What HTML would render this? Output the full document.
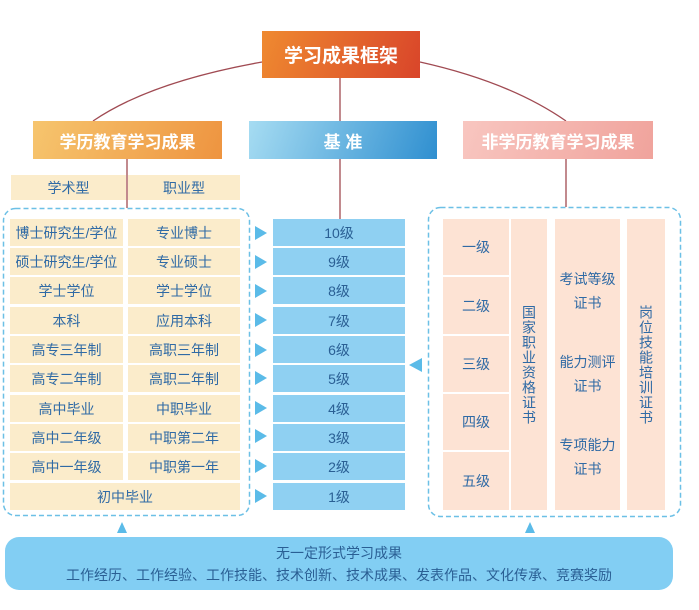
<!DOCTYPE html>
<html><head><meta charset="utf-8"><style>
body{margin:0;width:699px;height:610px;background:#fff;position:relative;overflow:hidden;font-family:"Liberation Sans","Noto Sans CJK SC",sans-serif;}
.a{position:absolute;box-sizing:border-box;display:flex;align-items:center;justify-content:center;text-align:center;color:#2f6aa5;font-size:14px;}
.h{color:#fff;font-weight:bold;font-size:19px;}
.y{background:#fbeccb;}
.b{background:#8fd0f2;color:#2a5f94;}
.p{background:#fde3d4;}
.v{writing-mode:vertical-rl;letter-spacing:1px;}
</style></head><body>
<svg width="699" height="610" style="position:absolute;left:0;top:0">
<path d="M262,62 Q150,82 93,121" fill="none" stroke="#a04a52" stroke-width="1.3"/>
<path d="M420,62 Q510,82 566,121" fill="none" stroke="#a04a52" stroke-width="1.3"/>
<line x1="340" y1="78" x2="340" y2="121" stroke="#a04a52" stroke-width="1.3"/>
<line x1="340" y1="159" x2="340" y2="219" stroke="#a04a52" stroke-width="1.3"/>
<line x1="127" y1="159" x2="127" y2="208" stroke="#a04a52" stroke-width="1.3"/>
<line x1="566" y1="159" x2="566" y2="207" stroke="#a04a52" stroke-width="1.3"/>
<rect x="3.5" y="208.5" width="246" height="307" rx="12" fill="none" stroke="#6cc0e6" stroke-width="1.5" stroke-dasharray="5,3"/>
<rect x="428.5" y="207.5" width="252" height="309" rx="12" fill="none" stroke="#6cc0e6" stroke-width="1.5" stroke-dasharray="5,3"/>
<polygon points="117,533 127,533 122,522" fill="#5bbbe8"/>
<polygon points="525,533 535,533 530,522" fill="#5bbbe8"/>
<polygon points="409,365 422,358 422,372" fill="#5bbbe8"/>
<g fill="#5bbbe8">
<polygon points="255,226 267,233 255,240"/><polygon points="255,255 267,262 255,269"/><polygon points="255,284 267,291 255,298"/><polygon points="255,313 267,320 255,327"/><polygon points="255,343 267,350 255,357"/><polygon points="255,371 267,378 255,385"/><polygon points="255,401 267,408 255,415"/><polygon points="255,429 267,436 255,443"/><polygon points="255,459 267,466 255,473"/><polygon points="255,489 267,496 255,503"/>
</g>
</svg>
<div class="a h" style="left:262px;top:31px;width:158px;height:47px;background:linear-gradient(110deg,#ef8a30,#d9452a);">学习成果框架</div>
<div class="a h" style="left:33px;top:121px;width:189px;height:38px;font-size:17px;background:linear-gradient(110deg,#f6c56e,#ee9440);">学历教育学习成果</div>
<div class="a h" style="left:249px;top:121px;width:188px;height:38px;font-size:17px;background:linear-gradient(110deg,#a6dcf2,#2f8fd0);">基 准</div>
<div class="a h" style="left:463px;top:121px;width:190px;height:38px;font-size:17px;background:linear-gradient(110deg,#f8c6c0,#f0a39c);">非学历教育学习成果</div>
<div class="a y" style="left:11px;top:175px;width:115px;height:25px;">学术型</div>
<div class="a y" style="left:128px;top:175px;width:112px;height:25px;">职业型</div>

<div class="a y" style="left:10px;top:219px;width:113px;height:27px;">博士研究生/学位</div><div class="a y" style="left:128px;top:219px;width:112px;height:27px;">专业博士</div><div class="a b" style="left:273px;top:219px;width:132px;height:27px;">10级</div>
<div class="a y" style="left:10px;top:248px;width:113px;height:27px;">硕士研究生/学位</div><div class="a y" style="left:128px;top:248px;width:112px;height:27px;">专业硕士</div><div class="a b" style="left:273px;top:248px;width:132px;height:27px;">9级</div>
<div class="a y" style="left:10px;top:277px;width:113px;height:27px;">学士学位</div><div class="a y" style="left:128px;top:277px;width:112px;height:27px;">学士学位</div><div class="a b" style="left:273px;top:277px;width:132px;height:27px;">8级</div>
<div class="a y" style="left:10px;top:307px;width:113px;height:27px;">本科</div><div class="a y" style="left:128px;top:307px;width:112px;height:27px;">应用本科</div><div class="a b" style="left:273px;top:307px;width:132px;height:27px;">7级</div>
<div class="a y" style="left:10px;top:336px;width:113px;height:27px;">高专三年制</div><div class="a y" style="left:128px;top:336px;width:112px;height:27px;">高职三年制</div><div class="a b" style="left:273px;top:336px;width:132px;height:27px;">6级</div>
<div class="a y" style="left:10px;top:365px;width:113px;height:27px;">高专二年制</div><div class="a y" style="left:128px;top:365px;width:112px;height:27px;">高职二年制</div><div class="a b" style="left:273px;top:365px;width:132px;height:27px;">5级</div>
<div class="a y" style="left:10px;top:395px;width:113px;height:27px;">高中毕业</div><div class="a y" style="left:128px;top:395px;width:112px;height:27px;">中职毕业</div><div class="a b" style="left:273px;top:395px;width:132px;height:27px;">4级</div>
<div class="a y" style="left:10px;top:424px;width:113px;height:27px;">高中二年级</div><div class="a y" style="left:128px;top:424px;width:112px;height:27px;">中职第二年</div><div class="a b" style="left:273px;top:424px;width:132px;height:27px;">3级</div>
<div class="a y" style="left:10px;top:453px;width:113px;height:27px;">高中一年级</div><div class="a y" style="left:128px;top:453px;width:112px;height:27px;">中职第一年</div><div class="a b" style="left:273px;top:453px;width:132px;height:27px;">2级</div>
<div class="a y" style="left:10px;top:483px;width:230px;height:27px;">初中毕业</div><div class="a b" style="left:273px;top:483px;width:132px;height:27px;">1级</div>

<div class="a p" style="left:443px;top:219px;width:66px;height:56px;">一级</div>
<div class="a p" style="left:443px;top:277px;width:66px;height:57px;">二级</div>
<div class="a p" style="left:443px;top:336px;width:66px;height:56px;">三级</div>
<div class="a p" style="left:443px;top:394px;width:66px;height:56px;">四级</div>
<div class="a p" style="left:443px;top:452px;width:66px;height:58px;">五级</div>
<div class="a p" style="left:511px;top:219px;width:36px;height:291px;"><span class="v">国家职业资格证书</span></div>
<div class="a p" style="left:555px;top:219px;width:65px;height:291px;flex-direction:column;justify-content:space-around;padding:30px 0 12px;line-height:24px;"><div>考试等级<br>证书</div><div>能力测评<br>证书</div><div>专项能力<br>证书</div></div>
<div class="a p" style="left:627px;top:219px;width:38px;height:291px;"><span class="v">岗位技能培训证书</span></div>

<div class="a" style="left:5px;top:537px;width:668px;height:53px;background:#82cef3;border-radius:14px;flex-direction:column;color:#2a5f94;line-height:22px;"><div>无一定形式学习成果</div><div>工作经历、工作经验、工作技能、技术创新、技术成果、发表作品、文化传承、竞赛奖励</div></div>
</body></html>
